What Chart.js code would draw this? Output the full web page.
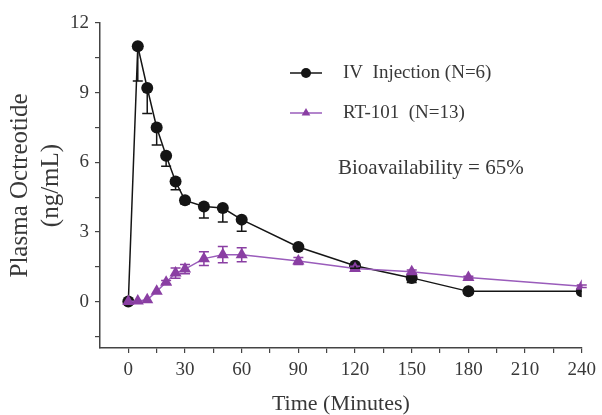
<!DOCTYPE html>
<html>
<head>
<meta charset="utf-8">
<script src="https://cdn.jsdelivr.net/npm/chart.js@4/dist/chart.umd.min.js"></script>
<style>
  html, body { margin: 0; padding: 0; background: #fff; }
  #wrap { width: 602px; height: 415px; }
</style>
</head>
<body>
<div id="wrap"><canvas id="c"></canvas></div>
<script>
// sampling times (minutes)
const times = [0, 5, 10, 15, 20, 25, 30, 40, 50, 60, 90, 120, 150, 180, 240];

// IV injection, mean and (lower) SD
const ivMean = [0, 11.0, 9.2, 7.5, 6.28, 5.17, 4.36, 4.1, 4.03, 3.53, 2.35, 1.54, 1.02, 0.44, 0.44];
const ivErr = [0, 1.5, 1.1, 0.75, 0.45, 0.35, 0.15, 0.5, 0.6, 0.5, 0.1, 0.1, 0.2, 0, 0];

// RT-101, mean and SD
const rtMean = [0, 0.02, 0.08, 0.44, 0.83, 1.23, 1.4, 1.85, 2.02, 2.02, 1.75, 1.42, 1.28, 1.04, 0.66];
const rtErr = [0, 0, 0, 0, 0.08, 0.22, 0.2, 0.3, 0.35, 0.3, 0.15, 0.1, 0.08, 0.05, 0.05];

const xTickLabels = [0, 30, 60, 90, 120, 150, 180, 210, 240];
const xMinorTicks = [15, 45, 75, 105, 135, 165, 195, 225];
const yTickLabels = [0, 3, 6, 9, 12];
const yMinorTicks = [-1.5, 1.5, 4.5, 7.5, 10.5];

const seriesNames = ['IV  Injection (N=6)', 'RT-101  (N=13)'];
const note = 'Bioavailability = 65%';

const ivColor = '#151515';
const rtColor = '#8a3fa3';
const rtLine = '#9a5cbb';
const axisColor = '#444';
const textColor = '#383838';
const serif = '"Liberation Serif", "DejaVu Serif", serif';

const errorBars = {
  id: 'errorBars',
  afterDatasetsDraw(chart) {
    const { ctx, scales: { x, y } } = chart;
    const sets = [
      { mean: rtMean, err: rtErr, color: rtColor, both: true },
      { mean: ivMean, err: ivErr, color: ivColor, both: false }
    ];
    ctx.save();
    ctx.lineWidth = 1.5;
    sets.forEach((s) => {
      ctx.strokeStyle = s.color;
      times.forEach((t, i) => {
        if (!s.err[i]) return;
        const px = x.getPixelForValue(t);
        const lo = y.getPixelForValue(s.mean[i] - s.err[i]);
        const hi = s.both ? y.getPixelForValue(s.mean[i] + s.err[i]) : y.getPixelForValue(s.mean[i]);
        ctx.beginPath();
        ctx.moveTo(px, hi);
        ctx.lineTo(px, lo);
        ctx.moveTo(px - 5, lo);
        ctx.lineTo(px + 5, lo);
        if (s.both) {
          ctx.moveTo(px - 5, hi);
          ctx.lineTo(px + 5, hi);
        }
        ctx.stroke();
      });
    });
    ctx.restore();
  }
};

const legendBox = {
  id: 'legendBox',
  afterDraw(chart) {
    const { ctx } = chart;
    const rows = [
      { y: 73, color: ivColor, line: ivColor, style: 'circle', r: 5 },
      { y: 113, color: rtColor, line: rtLine, style: 'triangle', r: 5 }
    ];
    ctx.save();
    rows.forEach((row, i) => {
      ctx.strokeStyle = row.line;
      ctx.lineWidth = 1.5;
      ctx.beginPath();
      ctx.moveTo(290, row.y);
      ctx.lineTo(322, row.y);
      ctx.stroke();
      ctx.fillStyle = row.color;
      Chart.helpers.drawPoint(ctx, { pointStyle: row.style, radius: row.r, borderWidth: 0 }, 306, row.y);
      ctx.fillStyle = textColor;
      ctx.font = '19px ' + serif;
      ctx.textBaseline = 'middle';
      ctx.fillText(seriesNames[i], 343, row.y);
    });
    ctx.font = '21px ' + serif;
    ctx.fillText(note, 338, 168);
    ctx.restore();
  }
};

new Chart(document.getElementById('c'), {
  type: 'line',
  data: {
    datasets: [
      {
        label: seriesNames[1],
        data: times.map((t, i) => ({ x: t, y: rtMean[i] })),
        borderColor: rtLine,
        backgroundColor: rtColor,
        borderWidth: 1.5,
        pointStyle: 'triangle',
        pointRadius: 7,
        pointBorderWidth: 0,
        order: 0
      },
      {
        label: seriesNames[0],
        data: times.map((t, i) => ({ x: t, y: ivMean[i] })),
        borderColor: ivColor,
        backgroundColor: ivColor,
        borderWidth: 1.5,
        pointStyle: 'circle',
        pointRadius: 6,
        pointBorderWidth: 0,
        order: 1
      }
    ]
  },
  options: {
    responsive: true,
    maintainAspectRatio: false,
    animation: false,
    layout: { padding: { top: 23, right: 15, left: 0, bottom: 0 } },
    plugins: {
      legend: { display: false },
      tooltip: { enabled: false }
    },
    scales: {
      x: {
        type: 'linear',
        min: -15,
        max: 240,
        afterBuildTicks(scale) {
          scale.ticks = xTickLabels.concat(xMinorTicks).sort((a, b) => a - b).map((v) => ({ value: v }));
        },
        afterFit(scale) { scale.height = 67; },
        ticks: {
          autoSkip: false,
          maxRotation: 0,
          padding: 6,
          color: textColor,
          font: { family: serif, size: 19 },
          callback: (v) => (xTickLabels.includes(v) ? String(v) : '')
        },
        grid: { drawOnChartArea: false, tickLength: 5, color: axisColor, lineWidth: 1.2 },
        border: { color: axisColor, width: 1.5 },
        title: {
          display: true,
          text: 'Time (Minutes)',
          color: textColor,
          font: { family: serif, size: 22 },
          padding: { top: 4, bottom: -2 }
        }
      },
      y: {
        type: 'linear',
        min: -2,
        max: 12,
        afterBuildTicks(scale) {
          scale.ticks = yTickLabels.concat(yMinorTicks).sort((a, b) => a - b).map((v) => ({ value: v }));
        },
        afterFit(scale) { scale.width = 100; },
        ticks: {
          autoSkip: false,
          padding: 6,
          color: textColor,
          font: { family: serif, size: 19 },
          callback: (v) => (yTickLabels.includes(v) ? String(v) : '')
        },
        grid: { drawOnChartArea: false, tickLength: 5, color: axisColor, lineWidth: 1.2 },
        border: { color: axisColor, width: 1.5 },
        title: {
          display: true,
          text: ['Plasma Octreotide', '(ng/mL)'],
          color: textColor,
          font: { family: serif, size: 25, lineHeight: 1.25 },
          padding: { top: 5, bottom: 0 }
        }
      }
    }
  },
  plugins: [errorBars, legendBox]
});
</script>
</body>
</html>
